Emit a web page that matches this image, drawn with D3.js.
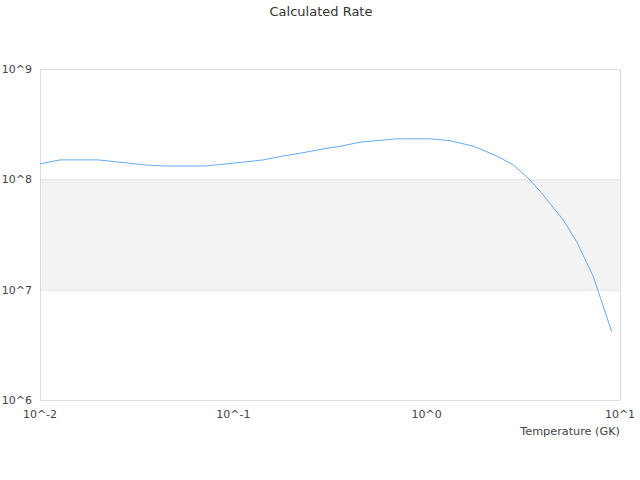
<!DOCTYPE html>
<html>
<head>
<meta charset="utf-8">
<script src="https://cdn.jsdelivr.net/npm/d3@7"></script>
<style>
    body { margin: 0; background: #fff; }
    svg { font-family: "DejaVu Sans", sans-serif; }
</style>
</head>
<body>
<svg id="chart" width="640" height="480"></svg>
<script>
// temperature grid (GK) and calculated rate
const temperatures = [0.01, 0.0127, 0.02, 0.035, 0.044, 0.071, 0.096, 0.143, 0.181, 0.208,
    0.304, 0.356, 0.452, 0.70, 1.04, 1.32, 1.74, 2.30, 2.81, 3.42, 4.01, 5.09, 5.97, 7.28, 9.06];
const rates = [1.38e8, 1.50e8, 1.50e8, 1.35e8, 1.32e8, 1.32e8, 1.39e8, 1.50e8, 1.63e8, 1.69e8,
    1.91e8, 1.99e8, 2.17e8, 2.33e8, 2.33e8, 2.24e8, 2.00e8, 1.63e8, 1.35e8, 9.9e7,
    7.2e7, 4.28e7, 2.72e7, 1.31e7, 4.16e6];
const xTicks = [0.01, 0.1, 1, 10];
const yTicks = [1e6, 1e7, 1e8, 1e9];
const bands = [[1e7, 1e8]];

const svg = d3.select("#chart");
const margins = { left: 40, right: 20, top: 69, bottom: 80 };
const width = 640, height = 480;

const scaleX = d3.scaleLog()
    .domain([0.01, 10])
    .range([margins.left, width - margins.right]);

const scaleY = d3.scaleLog()
    .domain([1e6, 1e9])
    .range([height - margins.bottom, margins.top]);

const expLabel = (v) => "10^" + Math.round(Math.log10(v));

// alternating band
svg.append("g")
    .selectAll("rect")
    .data(bands)
    .join("rect")
    .attr("x", scaleX(0.01))
    .attr("width", scaleX(10) - scaleX(0.01))
    .attr("y", (d) => scaleY(d[1]))
    .attr("height", (d) => scaleY(d[0]) - scaleY(d[1]))
    .attr("fill", "#f3f3f3");

// horizontal grid lines
svg.append("g")
    .selectAll("line")
    .data(yTicks)
    .join("line")
    .attr("x1", scaleX(0.01))
    .attr("x2", scaleX(10))
    .attr("y1", (d) => scaleY(d) + 0.5)
    .attr("y2", (d) => scaleY(d) + 0.5)
    .attr("stroke", "#e0e0e0");

// frame sides
svg.append("g")
    .selectAll("line")
    .data([0.01, 10])
    .join("line")
    .attr("x1", (d) => scaleX(d) + 0.5)
    .attr("x2", (d) => scaleX(d) + 0.5)
    .attr("y1", scaleY(1e9))
    .attr("y2", scaleY(1e6))
    .attr("stroke", "#dcdcdc");

// y labels
svg.append("g")
    .selectAll("text")
    .data(yTicks)
    .join("text")
    .attr("x", margins.left - 8)
    .attr("y", (d) => scaleY(d) + 4)
    .attr("text-anchor", "end")
    .attr("font-size", 11)
    .attr("fill", "#444")
    .text(expLabel);

// x labels
svg.append("g")
    .selectAll("text")
    .data(xTicks)
    .join("text")
    .attr("x", (d) => scaleX(d))
    .attr("y", height - margins.bottom + 18)
    .attr("text-anchor", "middle")
    .attr("font-size", 11)
    .attr("fill", "#444")
    .text(expLabel);

svg.append("text")
    .attr("x", scaleX(10))
    .attr("y", height - margins.bottom + 35)
    .attr("text-anchor", "end")
    .attr("font-size", 11.25)
    .attr("fill", "#444")
    .text("Temperature (GK)");

svg.append("text")
    .attr("x", 321)
    .attr("y", 16)
    .attr("text-anchor", "middle")
    .attr("font-size", 13)
    .attr("fill", "#333")
    .text("Calculated Rate");

const line = d3.line()
    .x((d) => scaleX(d[0]))
    .y((d) => scaleY(d[1]));

svg.append("path")
    .datum(temperatures.map((t, i) => [t, rates[i]]))
    .attr("d", line)
    .attr("fill", "none")
    .attr("stroke", "#64aaf0")
    .attr("stroke-width", 1);
</script>
</body>
</html>
